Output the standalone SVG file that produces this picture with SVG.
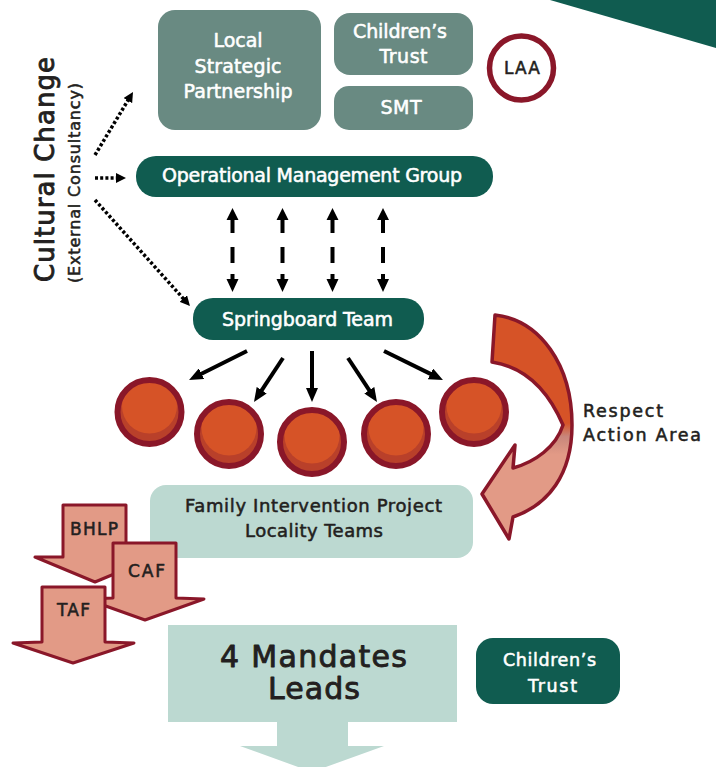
<svg xmlns="http://www.w3.org/2000/svg" width="716" height="767" viewBox="0 0 716 767">
<style>
  text { font-family: "DejaVu Sans", "Liberation Sans", sans-serif; stroke-width: 0.55; stroke-linejoin: round; }
  .w { fill: #ffffff; stroke: #ffffff; text-anchor: middle; }
  .d { fill: #231f20; stroke: #231f20; text-anchor: middle; }
  .k { fill: #231f20; stroke: #231f20; }
  .big { stroke-width: 0.9; }
  .grey { fill: #698a82; }
  .dark { fill: #105c50; }
  .light { fill: #bcd9d1; }
  .solid { stroke: #000; stroke-width: 4; fill: none; marker-end: url(#ah); }
  .dot { stroke: #000; stroke-width: 3.5; stroke-dasharray: 3 2.2; fill: none; marker-end: url(#dh); }
  .small { fill: #e29a86; stroke: #8a1729; stroke-width: 3; stroke-linejoin: round; }
  .ring { fill: none; stroke: #8a1729; stroke-width: 6; }
</style>
<defs>
  <marker id="ah" viewBox="0 0 14 12" refX="4" refY="6" markerWidth="14" markerHeight="12" markerUnits="userSpaceOnUse" orient="auto">
    <path d="M0,0 L14,6 L0,12 Z" fill="#000"/>
  </marker>
  <marker id="dh" viewBox="0 0 10 10" refX="3" refY="5" markerWidth="10" markerHeight="10" markerUnits="userSpaceOnUse" orient="auto">
    <path d="M0,0 L10,5 L0,10 Z" fill="#000"/>
  </marker>
  <g id="dd">
    <path d="M0,208 L6,220 L2,220 L2,233 L-2,233 L-2,220 L-6,220 Z" fill="#000"/>
    <rect x="-2" y="247" width="4" height="16" fill="#000"/>
    <path d="M-2,274 L2,274 L2,279 L6,279 L0,292 L-6,279 L-2,279 Z" fill="#000"/>
  </g>
  <g id="ball">
    <circle r="32" fill="#b9402a"/>
    <circle cx="0" cy="-6" r="27.5" fill="#d65327"/>
    <circle r="32" class="ring"/>
  </g>
  <linearGradient id="curv" gradientUnits="userSpaceOnUse" x1="0" y1="315" x2="0" y2="540">
    <stop offset="0" stop-color="#d65327"/>
    <stop offset="0.48" stop-color="#d65327"/>
    <stop offset="0.54" stop-color="#c8867b"/>
    <stop offset="0.62" stop-color="#e29a86"/>
    <stop offset="1" stop-color="#e29a86"/>
  </linearGradient>
</defs>

<polygon points="550,0 716,0 716,48" fill="#105c50"/>

<g id="lsp">
  <rect x="158" y="10" width="163" height="120" rx="17" class="grey"/>
  <text class="w" x="238" y="47" font-size="19" textLength="49">Local</text>
  <text class="w" x="238" y="73" font-size="19" textLength="87">Strategic</text>
  <text class="w" x="238" y="98" font-size="19" textLength="109">Partnership</text>
</g>
<g id="ct-top">
  <rect x="334" y="13" width="139" height="62" rx="16" class="grey"/>
  <text class="w" x="400" y="38" font-size="19" textLength="94">Children’s</text>
  <text class="w" x="403.5" y="63" font-size="19" textLength="48">Trust</text>
</g>
<g id="smt">
  <rect x="334" y="86" width="139" height="44" rx="15" class="grey"/>
  <text class="w" x="401" y="114" font-size="19" textLength="41">SMT</text>
</g>
<g id="laa">
  <circle cx="521.5" cy="68" r="32" fill="#fff" stroke="#8a1729" stroke-width="5.5"/>
  <text class="d" x="522" y="74" font-size="17" textLength="36">LAA</text>
</g>

<g id="omg">
  <rect x="136" y="156" width="357" height="41" rx="20" class="dark"/>
  <text class="w" x="312" y="182" font-size="19" textLength="300">Operational Management Group</text>
</g>

<g id="springboard">
  <rect x="193" y="298" width="231" height="42" rx="20" class="dark"/>
  <text class="w" x="307.5" y="326" font-size="19" textLength="171">Springboard Team</text>
</g>

<g id="culture">
  <text class="k big" transform="translate(54,282) rotate(-90)" font-size="26" textLength="225">Cultural Change</text>
  <text class="k" transform="translate(80,283) rotate(-90)" font-size="16" textLength="200">(External Consultancy)</text>
</g>

<g id="balls">
  <use href="#ball" x="149.5" y="412"/>
  <use href="#ball" x="229" y="434"/>
  <use href="#ball" x="312" y="442"/>
  <use href="#ball" x="396" y="434"/>
  <use href="#ball" x="474" y="412"/>
</g>

<g id="respect">
  <path d="M495,315 C540,320 572,365 572,425 C572,475 548,505 513,517 L509,539 L482,494 L515,445 L513,468 C535,462 556,447 563,425 C548,390 525,367 492,362 Z" fill="url(#curv)" stroke="#8a1729" stroke-width="3.5" stroke-linejoin="round"/>
  <text class="k" x="583" y="417" font-size="17.5" textLength="80">Respect</text>
  <text class="k" x="583" y="441" font-size="17.5" textLength="118">Action Area</text>
</g>

<g id="fip">
  <rect x="150" y="485" width="323" height="73" rx="16" class="light"/>
  <text class="d" x="313.5" y="512" font-size="18" textLength="257">Family Intervention Project</text>
  <text class="d" x="314" y="537" font-size="18" textLength="138">Locality Teams</text>
</g>

<g id="bhlp">
  <path class="small" d="M63,505 L126,505 L126,557 L155,557 L95,582 L35,557 L63,557 Z"/>
  <text class="d" x="94" y="535" font-size="17" textLength="48">BHLP</text>
</g>
<g id="caf">
  <path class="small" d="M113,543 L176,543 L176,598 L204,599 L145,620 L86,599 L113,598 Z"/>
  <text class="d" x="146.5" y="577" font-size="17" textLength="37">CAF</text>
</g>
<g id="taf">
  <path class="small" d="M42,587 L105,587 L105,642 L134,643 L73,663 L13,643 L42,642 Z"/>
  <text class="d" x="73.5" y="616" font-size="17" textLength="33">TAF</text>
</g>

<g id="mandates">
  <path d="M168,625 L457,625 L457,722 L348,722 L348,746 L384,746 L312,772 L240,746 L277,746 L277,722 L168,722 Z" class="light"/>
  <text class="d big" x="313.5" y="667" font-size="30" textLength="187">4 Mandates</text>
  <text class="d big" x="314" y="699" font-size="30" textLength="92">Leads</text>
</g>

<g id="ct-bottom">
  <rect x="476" y="638" width="144" height="66" rx="17" class="dark"/>
  <text class="w" x="549.5" y="666" font-size="17.5" textLength="93">Children’s</text>
  <text class="w" x="552.5" y="692" font-size="17.5" textLength="49">Trust</text>
</g>

<g id="connectors">
  <path class="dot" d="M95,155 L129.4,98"/>
  <path class="dot" d="M95,178 L119,178"/>
  <path class="dot" d="M95,200 L185.3,300.8"/>
  <use href="#dd" x="232.5" y="0"/>
  <use href="#dd" x="282.5" y="0"/>
  <use href="#dd" x="332.5" y="0"/>
  <use href="#dd" x="383" y="0"/>
  <path class="solid" d="M247,351 L198,375.5"/>
  <path class="solid" d="M283,358 L259.5,393.6"/>
  <path class="solid" d="M312,351 L312,392"/>
  <path class="solid" d="M348,358 L371.5,393.6"/>
  <path class="solid" d="M384,351 L434,375.6"/>
</g>
</svg>
